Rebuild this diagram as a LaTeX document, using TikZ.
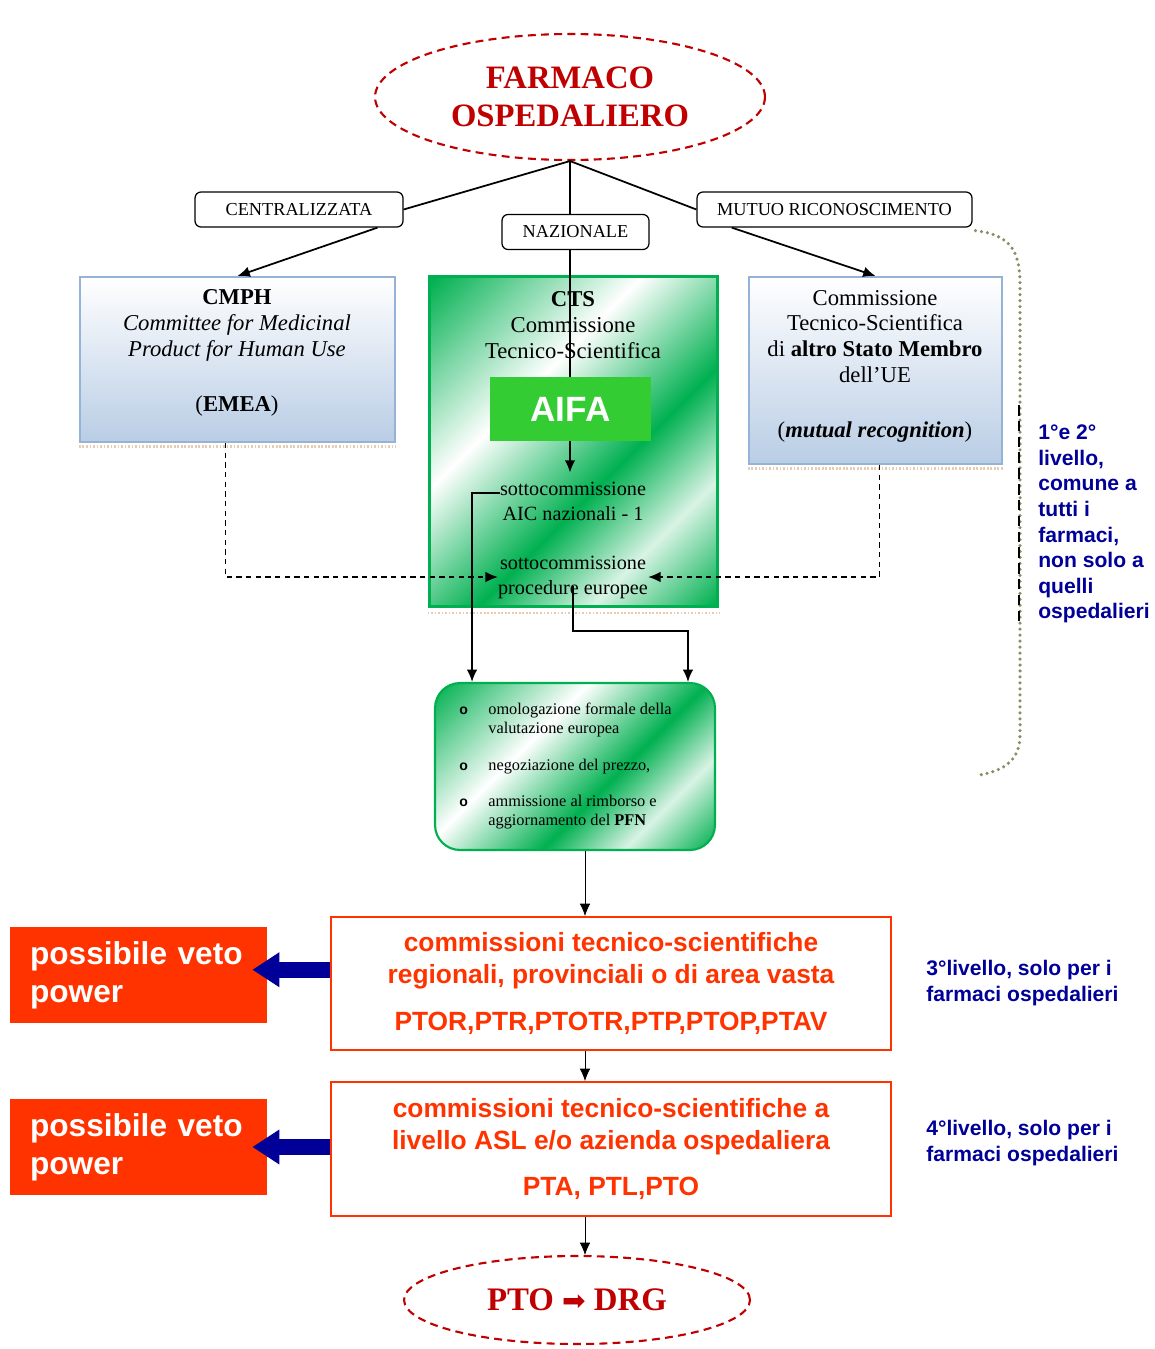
\documentclass[tikz,border=0pt]{standalone}
\usepackage{fontspec}
\setmainfont{Liberation Serif}
\setsansfont{Liberation Sans}
\newfontfamily\dejavu{DejaVu Sans}
\usetikzlibrary{shapes.geometric,arrows.meta}
\definecolor{darkred}{RGB}{192,0,0}
\definecolor{aifagreen}{RGB}{51,204,51}
\definecolor{ctsgreen}{RGB}{0,176,80}
\definecolor{boxblue}{RGB}{149,179,215}
\definecolor{fillblue}{RGB}{185,205,229}
\definecolor{vetored}{RGB}{255,51,0}
\definecolor{navy}{RGB}{0,0,153}
\definecolor{khaki}{RGB}{140,140,100}
\pgfdeclarehorizontalshading{greendiag}{100bp}{color(0bp)=(ctsgreen); color(15bp)=(ctsgreen); color(39bp)=(white); color(58bp)=(ctsgreen); color(71bp)=(white!85!ctsgreen); color(85bp)=(ctsgreen); color(100bp)=(ctsgreen)}

\begin{document}
\begin{tikzpicture}[x=0.02cm,y=-0.02cm,>={Latex[length=7pt,width=6pt]},
    txt/.style={inner sep=0pt,align=center},
    serifbig/.style={font=\fontsize{12.9}{14.7}\selectfont},
    serifsmall/.style={font=\fontsize{11.5}{14.2}\selectfont},
    tag/.style={draw,rounded corners=0.12cm,line width=0.7pt,minimum height=0.7cm,inner sep=0pt,font=\fontsize{10.4}{12}\selectfont},
    oval/.style={ellipse,draw=darkred,line width=1.2pt,dash pattern=on 4.5pt off 3pt,inner sep=0pt,align=center,text=darkred},
    bluebox/.style={draw=boxblue,line width=1.2pt,top color=white,bottom color=fillblue,inner sep=0pt},
    greenbox/.style={draw=ctsgreen,shading=greendiag,shading angle=-45,inner sep=0pt},
    shadowline/.style={brown!40,line width=1.5pt,dash pattern=on 1pt off 1pt},
    redbox/.style={draw=vetored,line width=1.2pt,minimum width=11.2cm,inner sep=0pt,align=center,text=vetored,font=\sffamily\bfseries\fontsize{15}{18.1}\selectfont},
    vetobox/.style={fill=vetored,minimum width=5.14cm,minimum height=1.92cm,text width=4.34cm,inner xsep=0.4cm,align=left,text=white,font=\sffamily\bfseries\fontsize{18}{21.5}\selectfont},
    bluetxt/.style={inner sep=0pt,align=left,anchor=west,text=navy,font=\sffamily\bfseries\fontsize{12}{14.6}\selectfont},
    veto/.style={navy,line width=0.32cm,-{Triangle[length=0.54cm,width=0.66cm]}},
    dashlink/.style={dash pattern=on 3pt off 2.5pt,line width=0.7pt,->}]
    \useasboundingbox (0,0) rectangle (1155,1349);

    \node[oval,minimum width=7.8cm,minimum height=2.52cm,font=\bfseries\fontsize{18.6}{21.5}\selectfont] (farmaco) at (570,97) {FARMACO\\OSPEDALIERO};
    \node[tag,minimum width=4.16cm] (centr) at (299,209.5) {CENTRALIZZATA};
    \node[tag,minimum width=2.94cm] (naz) at (575.5,232) {NAZIONALE};
    \node[tag,minimum width=5.5cm] (mutuo) at (834.5,209.5) {MUTUO RICONOSCIMENTO};

    \node[bluebox,minimum width=6.3cm,minimum height=3.3cm] (cmph) at (237.5,359.5) {};
    \node[greenbox,line width=1.7pt,minimum width=5.78cm,minimum height=6.62cm] (cts) at (573.5,441.5) {};
    \node[bluebox,minimum width=5.06cm,minimum height=3.74cm] (msbox) at (875.5,370.5) {};
    \draw[shadowline] ([yshift=-2pt]cmph.south west) -- ([yshift=-2pt]cmph.south east);
    \draw[shadowline] ([yshift=-2.5pt]cts.south west) -- ([yshift=-2.5pt]cts.south east);
    \draw[shadowline] ([yshift=-2pt]msbox.south west) -- ([yshift=-2pt]msbox.south east);

    \node[txt,serifbig] (cmphT) at (237,353) {\textbf{CMPH}\\\textit{Committee for Medicinal}\\\textit{Product for Human Use}\\[16.4pt](\textbf{EMEA})};
    \node[txt,serifbig] (ctsT) at (573,325) {\textbf{CTS}\\Commissione\\Tecnico-Scientifica};
    \node[txt,serifbig] (msT) at (875,366) {Commissione\\Tecnico-Scientifica\\di \textbf{altro Stato Membro}\\dell’UE\\[16.4pt](\textbf{\textit{mutual recognition}})};
    \node[txt,serifsmall] (sub1) at (573,501) {sottocommissione\\AIC nazionali - 1};
    \node[txt,serifsmall] (sub2) at (573,577) {sottocommissione\\procedure europee};

    \draw[line width=1pt] (farmaco.south) -- (centr.east);
    \draw[line width=1pt] (farmaco.south) -- (mutuo.west);
    \draw[line width=1pt] (farmaco.south) -- (farmaco.south |- naz.north);
    \draw[line width=1pt,->,shorten >=5pt] (farmaco.south |- naz.south) -- (farmaco.south |- sub1.north);
    \draw[line width=1pt,->] (centr.-13) -- (cmph.north);
    \draw[line width=1pt,->] (mutuo.190) -- (msbox.north);

    \node[fill=aifagreen,minimum width=3.22cm,minimum height=1.28cm,text=white,font=\sffamily\bfseries\fontsize{20}{24}\selectfont] (aifa) at (570.5,409) {AIFA};

    \node[greenbox,line width=1.2pt,rounded corners=0.5cm,minimum width=5.6cm,minimum height=3.34cm] (pfn) at (575,766.5) {};
    \node[txt,anchor=west,font=\fontsize{9.3}{10.8}\selectfont] (pfnT) at (459,766) {\begin{tabular}{@{}p{0.58cm}@{}l@{}}
        {\sffamily\bfseries\fontsize{8}{8}\selectfont o} & omologazione formale della\\
        & valutazione europea\\[10.5pt]
        {\sffamily\bfseries\fontsize{8}{8}\selectfont o} & negoziazione del prezzo,\\[9.5pt]
        {\sffamily\bfseries\fontsize{8}{8}\selectfont o} & ammissione al rimborso e\\
        & aggiornamento del \textbf{PFN}
      \end{tabular}};

    \draw[line width=1pt,->] ([yshift=4.5pt]sub1.west) -| ([xshift=-2.06cm]pfn.north);
    \draw[line width=1pt,->] ([yshift=-5pt]sub2.center) -- ++(0,45) -| ([xshift=2.26cm]pfn.north);
    \draw[dashlink] ([xshift=-0.24cm]cmph.south) |- (sub2.west);
    \draw[dashlink] ([xshift=0.08cm]msbox.south) |- (sub2.east);

    \draw[khaki,line width=2pt,line cap=round,dash pattern=on 0pt off 3.4pt] ([xshift=0.06cm,yshift=-0.06cm]mutuo.south east) .. controls (1010,235) and (1020,250) .. (1020,285) -- (1020,735) .. controls (1020,760) and (1005,770) .. (980,775);
    \draw[line width=1.5pt,dash pattern=on 6pt off 3pt] (1019,405) -- (1019,625);
    \node[bluetxt] (lev12) at (1038,524) {1°e 2°\\livello,\\comune a\\tutti i\\farmaci,\\non solo a\\quelli\\ospedalieri};

    \node[redbox,minimum height=2.66cm] (reg1) at (611,983.5) {commissioni tecnico-scientifiche\\regionali, provinciali o di area vasta\\[8.5pt]PTOR,PTR,PTOTR,PTP,PTOP,PTAV};
    \node[redbox,minimum height=2.68cm] (reg2) at (611,1149) {commissioni tecnico-scientifiche a\\livello ASL e/o azienda ospedaliera\\[8.5pt]PTA, PTL,PTO};
    \node[oval,minimum width=6.92cm,minimum height=1.76cm,font=\bfseries\fontsize{18.7}{22}\selectfont] (pto) at (577,1300) {PTO {\dejavu\mdseries\fontsize{16}{16}\selectfont ➡} DRG};

    \coordinate (spine) at (585,0);
    \draw[->] (pfn.south -| spine) -- (reg1.north -| spine);
    \draw[->] (reg1.south -| spine) -- (reg2.north -| spine);
    \draw[->] (reg2.south -| spine) -- (pto.north -| spine);

    \node[vetobox] (veto1) at (138.5,975) {possibile veto\\power};
    \node[vetobox] (veto2) at (138.5,1147) {possibile veto\\power};
    \draw[veto] ([yshift=3pt]reg1.west |- veto1.east) -- ([xshift=-0.3cm,yshift=3pt]veto1.east);
    \draw[veto] (reg2.west |- veto2.east) -- ([xshift=-0.3cm]veto2.east);

    \node[bluetxt] (lev3) at (926,983) {3°livello, solo per i\\farmaci ospedalieri};
    \node[bluetxt] (lev4) at (926,1143) {4°livello, solo per i\\farmaci ospedalieri};
\end{tikzpicture}
\end{document}
